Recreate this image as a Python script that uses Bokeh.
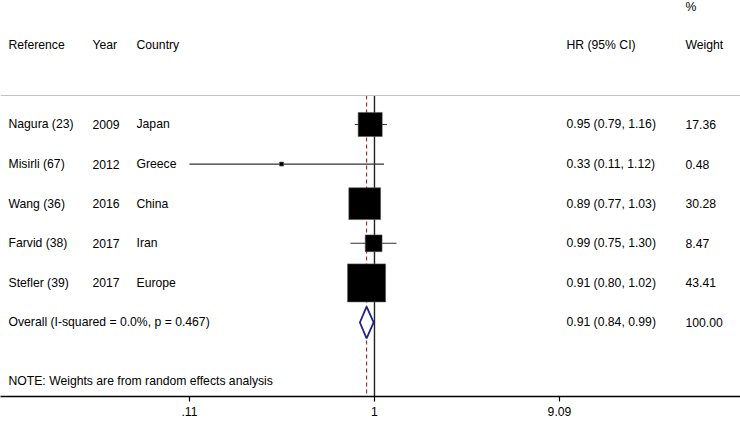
import math
from bokeh.plotting import figure
from bokeh.models import Range1d, FixedTicker, Span, ColumnDataSource, LinearScale
from bokeh.core.properties import value
from bokeh.embed import file_html
from bokeh.resources import INLINE

# ---------------- data ----------------
references = ["Nagura (23)", "Misirli (67)", "Wang (36)", "Farvid (38)", "Stefler (39)"]
years = ["2009", "2012", "2016", "2017", "2017"]
countries = ["Japan", "Greece", "China", "Iran", "Europe"]
hr = [0.95, 0.33, 0.89, 0.99, 0.91]
ci_low = [0.79, 0.11, 0.77, 0.75, 0.80]
ci_high = [1.16, 1.12, 1.03, 1.30, 1.02]
weights = [17.36, 0.48, 30.28, 8.47, 43.41]

overall_label = "Overall  (I-squared = 0.0%, p = 0.467)"
overall_hr = 0.91
overall_low = 0.84
overall_high = 0.99
overall_weight = 100.00

note_text = "NOTE: Weights are from random effects analysis"
header_left = ["Reference", "Year", "Country"]
header_right = ["HR (95% CI)", "Weight"]
header_pct = "%"

x_ticks = [0.11, 1, 9.09]
x_tick_labels = [".11", "1", "9.09"]

# ---------------- layout ----------------
W, H = 740, 421
FONT = value("Liberation Sans")
FS = "12.2px"

rows = list(range(1, len(references) + 1))
overall_row = len(references) + 1
note_row = overall_row + 1.49
header_row = -1
pct_row = -1.955
y_top, y_bottom = -2.131, 7.869
sep_row = 0.268

p = figure(width=W, height=H, x_axis_type="log",
           x_range=Range1d(0.01154, 78.8), y_range=Range1d(y_bottom, y_top),
           y_axis_location=None, toolbar_location=None, output_backend="svg",
           min_border_left=0, min_border_right=0, min_border_top=0, min_border_bottom=25)
p.extra_x_ranges = {"px": Range1d(0, W)}
p.extra_x_scales = {"px": LinearScale()}
p.outline_line_color = None
p.grid.visible = False
p.background_fill_color = "white"
p.border_fill_color = "white"

ax = p.xaxis[0]
ax.ticker = FixedTicker(ticks=x_ticks, minor_ticks=[])
ax.major_label_overrides = {t: l for t, l in zip(x_ticks, x_tick_labels)}
ax.axis_line_color = "black"
ax.axis_line_width = 1.3
ax.major_tick_line_color = "black"
ax.major_tick_line_width = 1.2
ax.major_tick_out = 5
ax.major_tick_in = 0
ax.minor_tick_line_color = None
ax.major_label_text_font = "Liberation Sans"
ax.major_label_text_font_size = FS
ax.major_label_text_color = "black"
ax.major_label_standoff = 5

# separator under header
p.add_layout(Span(location=sep_row, dimension="width", line_color="#c4c4c4", line_width=1.2))

# reference line at 1 and dashed overall line
p.segment(x0=[1], y0=[sep_row], x1=[1], y1=[y_bottom], line_color="#222222", line_width=1.4)
p.segment(x0=[overall_hr], y0=[sep_row], x1=[overall_hr], y1=[y_bottom],
          line_color="#b5232d", line_width=1.1, line_dash="4 3")

# CI lines and weighted squares
src = ColumnDataSource(dict(
    row=rows, hr=hr, lo=ci_low, hi=ci_high,
    size=[5.77 * math.sqrt(w) for w in weights],
    ref=references, year=years, country=countries,
    hrtxt=["%.2f (%.2f, %.2f)" % (a, b, c) for a, b, c in zip(hr, ci_low, ci_high)],
    wtxt=["%.2f" % w for w in weights],
))
p.segment(x0="lo", y0="row", x1="hi", y1="row", source=src, line_color="#333333", line_width=1.1)
p.scatter(x="hr", y="row", size="size", marker="square", source=src,
          fill_color="black", line_color="#555555", line_width=0.6)

# overall diamond
dh = 0.4
p.patch(x=[overall_low, overall_hr, overall_high, overall_hr],
        y=[overall_row, overall_row - dh, overall_row, overall_row + dh],
        fill_color="white", line_color="#1c2383", line_width=1.8)

# text columns (screen-pixel x range)
col_ref, col_year, col_country, col_hr, col_w = 8, 92, 136, 566, 685
tkw = dict(x_range_name="px", text_font=FONT, text_font_size=FS, text_color="black",
           text_baseline="middle", text_align="left")

p.text(x=[col_ref, col_year, col_country, col_hr, col_w], y=[header_row] * 5,
       text=header_left + header_right, **tkw)
p.text(x=[col_w], y=[pct_row], text=[header_pct], **tkw)

p.text(x=col_ref, y="row", text="ref", source=src, **tkw)
p.text(x=col_year, y="row", text="year", source=src, **tkw)
p.text(x=col_country, y="row", text="country", source=src, **tkw)
p.text(x=col_hr, y="row", text="hrtxt", source=src, **tkw)
p.text(x=col_w, y="row", text="wtxt", source=src, **tkw)

p.text(x=[col_ref, col_hr, col_w], y=[overall_row] * 3,
       text=[overall_label, "%.2f (%.2f, %.2f)" % (overall_hr, overall_low, overall_high),
             "%.2f" % overall_weight], **tkw)
p.text(x=[col_ref], y=[note_row], text=[note_text], **tkw)

open("out.html", "w").write(file_html(p, INLINE))
